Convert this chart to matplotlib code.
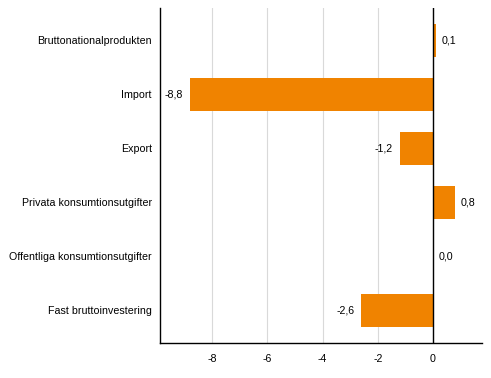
import matplotlib.pyplot as plt

plt.rcParams['font.family'] = ['Liberation Sans', 'DejaVu Sans']

# data
categories = ["Bruttonationalprodukten", "Import", "Export",
              "Privata konsumtionsutgifter", "Offentliga konsumtionsutgifter",
              "Fast bruttoinvestering"]
values = [0.1, -8.8, -1.2, 0.8, 0.0, -2.6]
xticks = [-8, -6, -4, -2, 0]

fs = 7.7

fig = plt.figure(figsize=(4.91, 3.78), dpi=100)
ax = fig.add_axes([0.325, 0.093, 0.657, 0.886])

ypos = list(range(len(categories)))
ax.barh(ypos, values, height=0.61, color="#F08300", zorder=2)

ax.set_xlim(-9.9, 1.78)
ax.set_ylim(5.6, -0.6)
ax.set_yticks(ypos)
ax.set_yticklabels(categories, fontsize=fs)
ax.set_xticks(xticks)
ax.set_xticklabels([str(t) for t in xticks], fontsize=fs)
ax.tick_params(axis="x", length=0, pad=8)
ax.tick_params(axis="y", length=0, pad=5.5)

ax.grid(axis="x", color="#d9d9d9", linewidth=0.8, zorder=0)
ax.axvline(0, color="black", linewidth=1.0, zorder=3)

for s in ["top", "right"]:
    ax.spines[s].set_visible(False)
for s in ["left", "bottom"]:
    ax.spines[s].set_linewidth(1.0)

for y, v in zip(ypos, values):
    lbl = f"{v:.1f}".replace(".", ",")
    if v >= 0:
        ax.annotate(lbl, (v, y), xytext=(4, 0), textcoords="offset points",
                    ha="left", va="center", fontsize=fs)
    else:
        ax.annotate(lbl, (v, y), xytext=(-5, 0), textcoords="offset points",
                    ha="right", va="center", fontsize=fs)

fig.savefig("out.png", dpi=100)
